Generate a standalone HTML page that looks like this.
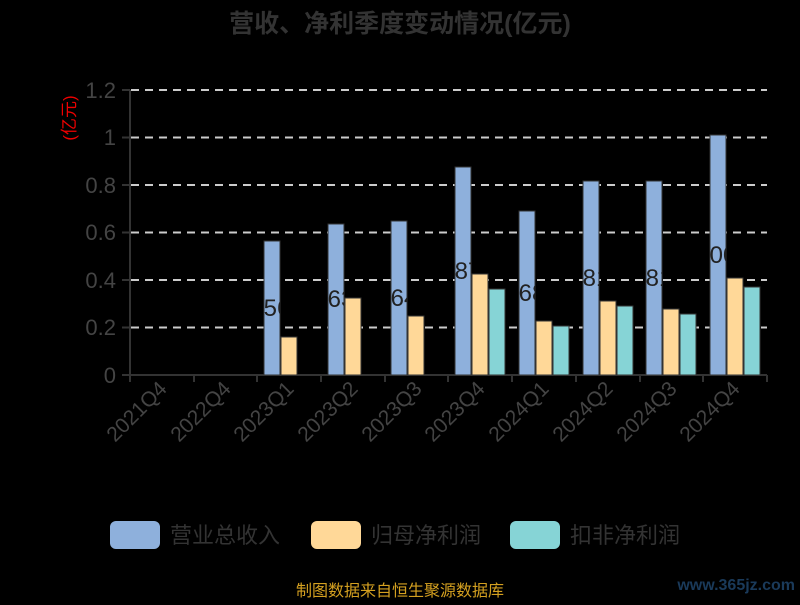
<!DOCTYPE html>
<html><head><meta charset="utf-8"><style>
body{margin:0;background:#000;}
svg text{font-family:"Liberation Sans","Noto Sans CJK SC",sans-serif;}
</style></head><body>
<svg width="800" height="600" xmlns="http://www.w3.org/2000/svg">
<defs><clipPath id="bc">
<rect x="264" y="241" width="16" height="134"/><rect x="328" y="224" width="16" height="151"/><rect x="391" y="221" width="16" height="154"/><rect x="455" y="167" width="16" height="208"/><rect x="519" y="211" width="16" height="164"/><rect x="583" y="181" width="16" height="194"/><rect x="646" y="181" width="16" height="194"/><rect x="710" y="135" width="16" height="240"/>
</clipPath></defs>
<rect width="800" height="600" fill="#000"/>
<text x="400" y="32" text-anchor="middle" font-size="25" font-weight="bold" fill="#333">营收、净利季度变动情况(亿元)</text>
<text transform="translate(75,118) rotate(-90)" text-anchor="middle" font-size="17" fill="#e00">(亿元)</text>
<g stroke="#ccc" stroke-width="2" stroke-dasharray="8,6">
<line x1="131" y1="90" x2="767" y2="90"/><line x1="131" y1="137.5" x2="767" y2="137.5"/>
<line x1="131" y1="185" x2="767" y2="185"/><line x1="131" y1="232.5" x2="767" y2="232.5"/>
<line x1="131" y1="280" x2="767" y2="280"/><line x1="131" y1="327.5" x2="767" y2="327.5"/>
</g>
<g stroke="#333" stroke-width="2">
<line x1="130" y1="90" x2="130" y2="376"/><line x1="130" y1="375" x2="767" y2="375"/>
<line x1="122" y1="90" x2="130" y2="90"/><line x1="122" y1="137.5" x2="130" y2="137.5"/><line x1="122" y1="185" x2="130" y2="185"/><line x1="122" y1="232.5" x2="130" y2="232.5"/><line x1="122" y1="280" x2="130" y2="280"/><line x1="122" y1="327.5" x2="130" y2="327.5"/><line x1="122" y1="375" x2="130" y2="375"/>
<line x1="130" y1="375" x2="130" y2="382"/><line x1="194" y1="375" x2="194" y2="382"/><line x1="257" y1="375" x2="257" y2="382"/><line x1="321" y1="375" x2="321" y2="382"/><line x1="385" y1="375" x2="385" y2="382"/><line x1="448" y1="375" x2="448" y2="382"/><line x1="512" y1="375" x2="512" y2="382"/><line x1="576" y1="375" x2="576" y2="382"/><line x1="640" y1="375" x2="640" y2="382"/><line x1="703" y1="375" x2="703" y2="382"/><line x1="767" y1="375" x2="767" y2="382"/>
</g>
<g font-size="22" fill="#444" text-anchor="end">
<text x="116" y="98">1.2</text><text x="116" y="145">1</text><text x="116" y="193">0.8</text><text x="116" y="240">0.6</text><text x="116" y="288">0.4</text><text x="116" y="335">0.2</text><text x="116" y="383">0</text>
</g>
<g font-size="21" fill="#444" text-anchor="end">
<text transform="translate(168,390) rotate(-45)">2021Q4</text>
<text transform="translate(232,390) rotate(-45)">2022Q4</text>
<text transform="translate(295,390) rotate(-45)">2023Q1</text>
<text transform="translate(359,390) rotate(-45)">2023Q2</text>
<text transform="translate(423,390) rotate(-45)">2023Q3</text>
<text transform="translate(486,390) rotate(-45)">2023Q4</text>
<text transform="translate(550,390) rotate(-45)">2024Q1</text>
<text transform="translate(614,390) rotate(-45)">2024Q2</text>
<text transform="translate(678,390) rotate(-45)">2024Q3</text>
<text transform="translate(741,390) rotate(-45)">2024Q4</text>
</g>
<g stroke="#333" stroke-width="1">
<rect x="264" y="241" width="16" height="134" fill="#8eb0dc"/><rect x="281" y="337" width="16" height="38" fill="#ffd898"/>
<rect x="328" y="224" width="16" height="151" fill="#8eb0dc"/><rect x="345" y="298" width="16" height="77" fill="#ffd898"/>
<rect x="391" y="221" width="16" height="154" fill="#8eb0dc"/><rect x="408" y="316" width="16" height="59" fill="#ffd898"/>
<rect x="455" y="167" width="16" height="208" fill="#8eb0dc"/><rect x="472" y="274" width="16" height="101" fill="#ffd898"/><rect x="489" y="289" width="16" height="86" fill="#86d4d6"/>
<rect x="519" y="211" width="16" height="164" fill="#8eb0dc"/><rect x="536" y="321" width="16" height="54" fill="#ffd898"/><rect x="553" y="326" width="16" height="49" fill="#86d4d6"/>
<rect x="583" y="181" width="16" height="194" fill="#8eb0dc"/><rect x="600" y="301" width="16" height="74" fill="#ffd898"/><rect x="617" y="306" width="16" height="69" fill="#86d4d6"/>
<rect x="646" y="181" width="16" height="194" fill="#8eb0dc"/><rect x="663" y="309" width="16" height="66" fill="#ffd898"/><rect x="680" y="314" width="16" height="61" fill="#86d4d6"/>
<rect x="710" y="135" width="16" height="240" fill="#8eb0dc"/><rect x="727" y="278" width="16" height="97" fill="#ffd898"/><rect x="744" y="287" width="16" height="88" fill="#86d4d6"/>
</g>
<g font-size="24" fill="#222" text-anchor="middle" clip-path="url(#bc)">
<text x="267" y="316">0.56</text><text x="331" y="307">0.63</text><text x="394" y="306">0.64</text><text x="458" y="279">0.87</text><text x="522" y="301">0.68</text><text x="586" y="286">0.81</text><text x="649" y="286">0.81</text><text x="713" y="263">1.00</text>
</g>
<rect x="110" y="521" width="50" height="28" rx="6" fill="#8eb0dc"/>
<text x="170" y="543" font-size="22" fill="#333">营业总收入</text>
<rect x="311" y="521" width="50" height="28" rx="6" fill="#ffd898"/>
<text x="371" y="543" font-size="22" fill="#333">归母净利润</text>
<rect x="510" y="521" width="50" height="28" rx="6" fill="#86d4d6"/>
<text x="570" y="543" font-size="22" fill="#333">扣非净利润</text>
<text x="400" y="596" text-anchor="middle" font-size="16" fill="#d4a020">制图数据来自恒生聚源数据库</text>
<text x="795" y="590" text-anchor="end" font-size="16" font-weight="bold" fill="#1a3a5a">www.365jz.com</text>
</svg>
</body></html>
